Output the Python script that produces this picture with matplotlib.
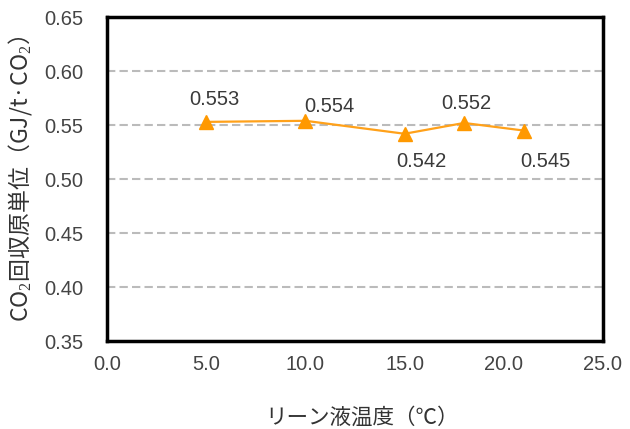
import numpy as np
import matplotlib.pyplot as plt

plt.rcParams['font.family'] = ['Noto Sans CJK JP', 'DejaVu Sans']
plt.rcParams['mathtext.fontset'] = 'custom'
plt.rcParams['mathtext.rm'] = 'Liberation Serif'

# data
temps = [5.0, 10.0, 15.0, 18.0, 21.0]
values = [0.553, 0.554, 0.542, 0.552, 0.545]
labels = ['0.553', '0.554', '0.542', '0.552', '0.545']
# label placement (offset in points)
offsets = [(6, 16), (17, 10), (12, -20), (1.5, 14), (16, -22)]

num_font = 'Liberation Sans'

fig = plt.figure(figsize=(6.3, 4.29), dpi=100)
ax = fig.add_axes([0.170, 0.205, 0.787, 0.755])

ax.plot(temps, values, color='#FFA11A', linewidth=1.6, marker='^',
        markersize=10, markerfacecolor='#FF9900', markeredgecolor='#FF9900')

for x, y, t, off in zip(temps, values, labels, offsets):
    ax.annotate(t, (x, y), xytext=off, textcoords='offset points',
                ha='center', va='center', fontsize=14.5, color='#3a3a3a',
                family=num_font)

ax.set_xlim(0, 25)
ax.set_ylim(0.35, 0.65)
xt = np.arange(0, 25.1, 5)
yt = np.arange(0.35, 0.651, 0.05)
ax.set_xticks(xt)
ax.set_xticklabels([f'{v:.1f}' for v in xt], family=num_font)
ax.set_yticks(yt)
ax.set_yticklabels([f'{v:.2f}' for v in yt], family=num_font)
ax.tick_params(length=0, labelsize=14.5, colors='#444444')
ax.tick_params(axis='y', pad=17)
ax.tick_params(axis='x', pad=10)

for yv in [0.40, 0.45, 0.50, 0.55, 0.60]:
    ax.axhline(yv, color='#BBBBBB', linestyle=(0, (4, 2)), linewidth=1.5, zorder=0)

for s in ax.spines.values():
    s.set_linewidth(2.5)
    s.set_color('black')

ax.set_ylabel('CO$_\\mathrm{2}$回収原単位（GJ/t·CO$_\\mathrm{2}$）', fontsize=16.5,
              va='center', color='#333333')
ax.yaxis.set_label_coords(-0.175, 0.5)
ax.set_xlabel('リーン液温度（℃）', fontsize=15.5, va='center', color='#333333')
ax.xaxis.set_label_coords(0.514, -0.238)

fig.savefig('out.png', dpi=100)
